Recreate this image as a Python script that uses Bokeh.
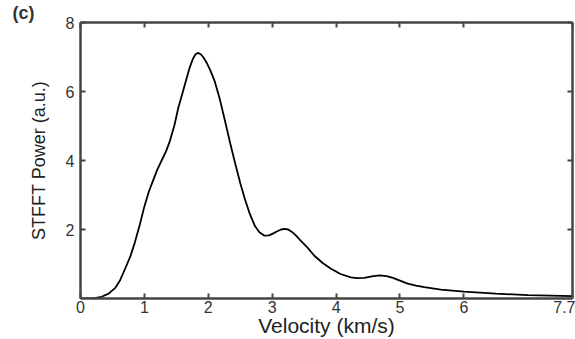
from bokeh.plotting import figure
from bokeh.models import LinearAxis, FixedTicker, Range1d
from bokeh.embed import file_html
from bokeh.resources import INLINE

velocity = [0.0, 0.2, 0.33, 0.44, 0.54, 0.62, 0.70, 0.78, 0.85, 0.93, 1.0, 1.07, 1.14, 1.2,
            1.27, 1.34, 1.40, 1.47, 1.53, 1.60, 1.66, 1.71, 1.76, 1.80, 1.84, 1.88, 1.92,
            1.97, 2.03, 2.10, 2.18, 2.26, 2.34, 2.42, 2.50, 2.57, 2.65, 2.73, 2.80, 2.88,
            2.95, 3.01, 3.08, 3.14, 3.19, 3.25, 3.31, 3.37, 3.43, 3.55, 3.66, 3.79, 3.92,
            4.07, 4.23, 4.33, 4.44, 4.56, 4.68, 4.79, 4.89, 5.0, 5.12, 5.25, 5.38, 5.64,
            6.0, 6.5, 7.0, 7.7]
power = [0.0, 0.0, 0.05, 0.14, 0.3, 0.53, 0.87, 1.22, 1.62, 2.15, 2.67, 3.1, 3.44, 3.73,
         4.0, 4.27, 4.57, 5.02, 5.52, 5.98, 6.38, 6.7, 6.95, 7.08, 7.12, 7.08, 7.0,
         6.85, 6.62, 6.3, 5.78, 5.16, 4.52, 3.92, 3.35, 2.9, 2.45, 2.1, 1.92, 1.82,
         1.83, 1.88, 1.95, 2.0, 2.02, 2.0, 1.93, 1.83, 1.71, 1.48, 1.24, 1.03, 0.86,
         0.71, 0.61, 0.59, 0.6, 0.64, 0.67, 0.65, 0.6, 0.52, 0.43, 0.37, 0.33, 0.26,
         0.2, 0.14, 0.1, 0.07]

x_ticks = [0, 1, 2, 3, 4, 5, 6, 7.7]
y_ticks = [2, 4, 6, 8]

FONT = "Liberation Sans"
AX = "#444444"

p = figure(width=575, height=339, output_backend="svg", toolbar_location=None,
           x_range=Range1d(0, 7.7), y_range=Range1d(0, 8),
           min_border_left=80, min_border_right=3, min_border_top=22, min_border_bottom=40)
p.grid.visible = False
p.outline_line_color = None
p.background_fill_color = "white"

p.title.text = "(c)"
p.title.text_font = FONT
p.title.text_font_size = "18px"
p.title.text_font_style = "bold"
p.title.text_color = "#333333"
p.title.align = "left"
p.title.offset = -68
p.title.standoff = 0

for ax in (p.xaxis[0], p.yaxis[0]):
    ax.major_tick_in = 5
    ax.major_tick_out = 0
    ax.minor_tick_line_color = None
    ax.axis_line_width = 2.5
    ax.axis_line_color = AX
    ax.major_tick_line_color = AX
    ax.major_tick_line_width = 2
    ax.major_label_text_font = FONT
    ax.major_label_text_font_size = "16px"
    ax.major_label_text_color = "#333333"
    ax.axis_label_text_font = FONT
    ax.axis_label_text_font_style = "normal"
    ax.axis_label_text_color = "#222222"

p.xaxis[0].ticker = FixedTicker(ticks=x_ticks)
p.xaxis[0].major_label_overrides = {7.7: "7.7"}
p.xaxis[0].axis_label = "Velocity (km/s)"
p.xaxis[0].axis_label_text_font_size = "21px"
p.xaxis[0].major_label_standoff = 2
p.xaxis[0].axis_label_standoff = -2

p.yaxis[0].ticker = FixedTicker(ticks=y_ticks)
p.yaxis[0].axis_label = "STFFT Power (a.u.)"
p.yaxis[0].axis_label_text_font_size = "18px"
p.yaxis[0].major_label_standoff = 6
p.yaxis[0].axis_label_standoff = 14

def mirror(ticks):
    return LinearAxis(ticker=FixedTicker(ticks=ticks), major_label_text_font_size="1px",
                      major_label_text_color=None, major_tick_in=5, major_tick_out=0,
                      minor_tick_line_color=None, axis_line_width=2.5, axis_line_color=AX,
                      major_tick_line_color=AX, major_tick_line_width=2,
                      major_label_standoff=0)

p.add_layout(mirror(x_ticks), "above")
p.add_layout(mirror(y_ticks), "right")

p.line(velocity, power, line_color="black", line_width=1.8)

open("out.html", "w").write(file_html(p, INLINE))
